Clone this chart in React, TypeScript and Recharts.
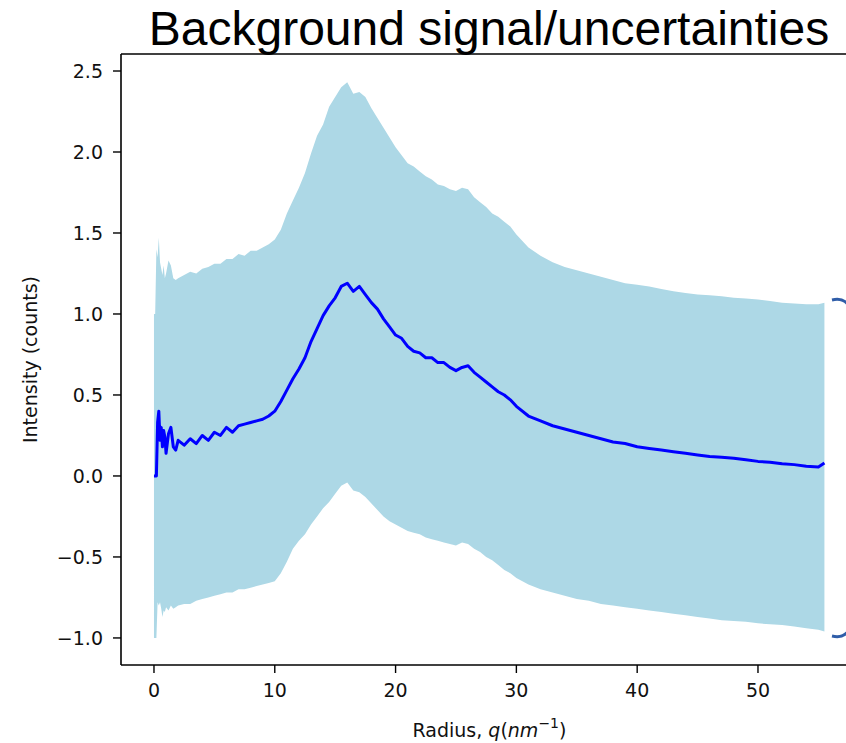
import { Area, ComposedChart, Label, Line, ReferenceLine, XAxis, YAxis } from 'recharts';

// radius q (nm^-1)
const radius = [
	0, 0.1, 0.2, 0.3, 0.4, 0.5, 0.6, 0.7, 0.8, 0.9, 1.0, 1.2, 1.4, 1.6, 1.8, 2.0,
	2.5, 3, 3.5, 4, 4.5, 5, 5.5, 6, 6.5, 7, 7.5, 8, 8.5, 9, 9.5, 10,
	10.5, 11, 11.5, 12, 12.5, 13, 13.5, 14, 14.5, 15, 15.5, 16, 16.5, 17, 17.5, 18, 18.5, 19, 19.5, 20,
	20.5, 21, 21.5, 22, 22.5, 23, 23.5, 24, 24.5, 25, 25.5, 26, 26.5, 27, 27.5, 28, 28.5, 29, 29.5, 30,
	31, 32, 33, 34, 35, 36, 37, 38, 39, 40, 41, 42, 43, 44, 45, 46, 47, 48, 49, 50, 51, 52, 53, 54, 55,
	55.5,
];

// background signal (mean)
const signal = [
	0.0, 0.0, 0.0, 0.33, 0.4, 0.22, 0.3, 0.18, 0.28, 0.24, 0.14, 0.26, 0.3, 0.18, 0.16, 0.22,
	0.19, 0.23, 0.2, 0.25, 0.22, 0.27, 0.25, 0.3, 0.27, 0.31, 0.32, 0.33, 0.34, 0.35, 0.37, 0.4,
	0.46, 0.53, 0.6, 0.66, 0.73, 0.83, 0.91, 0.99, 1.05, 1.1, 1.17, 1.19, 1.14, 1.17, 1.12, 1.07, 1.03, 0.97, 0.92, 0.87,
	0.85, 0.8, 0.77, 0.76, 0.73, 0.73, 0.7, 0.7, 0.67, 0.65, 0.67, 0.68, 0.64, 0.61, 0.58, 0.55, 0.52, 0.5, 0.47, 0.43,
	0.37, 0.34, 0.31, 0.29, 0.27, 0.25, 0.23, 0.21, 0.2, 0.18, 0.17, 0.16, 0.15, 0.14, 0.13, 0.12, 0.115, 0.11, 0.1, 0.09, 0.085, 0.075, 0.07, 0.06, 0.055,
	0.08,
];

// signal + uncertainty
const upper = [
	1.0, 1.0, 1.4, 1.35, 1.47, 1.32, 1.28, 1.24, 1.3, 1.22, 1.25, 1.33, 1.3, 1.22, 1.21, 1.22,
	1.24, 1.26, 1.25, 1.28, 1.29, 1.31, 1.31, 1.34, 1.34, 1.37, 1.36, 1.39, 1.39, 1.41, 1.43, 1.46,
	1.52, 1.62, 1.7, 1.78, 1.87, 1.99, 2.1, 2.17, 2.28, 2.34, 2.4, 2.43, 2.36, 2.37, 2.34, 2.27, 2.21, 2.15, 2.09, 2.03,
	1.98, 1.93, 1.91, 1.88, 1.85, 1.83, 1.8, 1.79, 1.77, 1.76, 1.78, 1.77, 1.72, 1.69, 1.66, 1.62, 1.6, 1.57, 1.54, 1.49,
	1.41, 1.36, 1.32, 1.29, 1.27, 1.25, 1.23, 1.21, 1.19, 1.18, 1.17, 1.155, 1.14, 1.13, 1.12, 1.115, 1.11, 1.1, 1.095, 1.09, 1.08, 1.07, 1.065, 1.06, 1.06,
	1.07,
];

// signal - uncertainty
const lower = [
	-1.0, -1.0, -1.0, -0.78, -0.8, -0.78, -0.82, -0.87, -0.83, -0.84, -0.81, -0.83, -0.8, -0.82, -0.81, -0.8,
	-0.79, -0.79, -0.77, -0.76, -0.75, -0.74, -0.73, -0.72, -0.72, -0.7, -0.7, -0.69, -0.68, -0.67, -0.66, -0.65,
	-0.6, -0.53, -0.45, -0.4, -0.36, -0.3, -0.25, -0.2, -0.16, -0.11, -0.06, -0.04, -0.09, -0.1, -0.13, -0.17, -0.21, -0.25, -0.28, -0.3,
	-0.32, -0.34, -0.35, -0.36, -0.38, -0.39, -0.4, -0.41, -0.42, -0.43, -0.41, -0.42, -0.45, -0.47, -0.5, -0.52, -0.55, -0.58, -0.6, -0.63,
	-0.67, -0.7, -0.72, -0.74, -0.76, -0.77, -0.79, -0.8, -0.81, -0.82, -0.83, -0.84, -0.85, -0.86, -0.87, -0.88, -0.89, -0.895, -0.9, -0.91, -0.915, -0.92, -0.93, -0.94, -0.95,
	-0.96,
];

const xTicks = [0, 10, 20, 30, 40, 50];
const yTicks = [-1.0, -0.5, 0.0, 0.5, 1.0, 1.5, 2.0, 2.5];

const X_DOMAIN = [-2.73, 58.28];
const Y_DOMAIN = [-1.167, 2.605];

const data = radius.map((q, i) => ({
	q,
	mean: signal[i],
	band: [lower[i], upper[i]],
}));

const FONT = 'DejaVu Sans';
const tickStyle = { fill: '#111', fontSize: 19, fontFamily: FONT };

const fmtY = (v: number) => v.toFixed(1).replace('-', '\u2212');

const XLabel = (props: any) => {
	const vb = props.viewBox || { x: 121, y: 665, width: 737 };
	const cx = vb.x + vb.width / 2;
	return (
		<text x={cx} y={737} textAnchor='middle' fontFamily={FONT} fontSize={19} fill='#111'>
			Radius, <tspan fontStyle='italic'>q</tspan>(<tspan fontStyle='italic'>nm</tspan>
			<tspan fontSize={14} dy={-9}>{'\u2212'}1</tspan>
			<tspan dy={9}>)</tspan>
		</text>
	);
};

const YLabel = (props: any) => {
	const vb = props.viewBox || { y: 54, height: 611 };
	const cy = vb.y + vb.height / 2;
	return (
		<text
			x={37}
			y={cy}
			transform={`rotate(-90, 37, ${cy})`}
			textAnchor='middle'
			fontFamily={FONT}
			fontSize={19}
			fill='#111'
		>
			Intensity (counts)
		</text>
	);
};

export default function App() {
	return (
		<div
			style={{
				position: 'absolute',
				left: 0,
				top: 0,
				width: 846,
				height: 743,
				overflow: 'hidden',
				background: '#fff',
			}}
		>
			<ComposedChart
				width={868}
				height={743}
				data={data}
				margin={{ top: 54, right: 10, bottom: 0, left: 0 }}
			>
				<XAxis
					dataKey='q'
					type='number'
					domain={X_DOMAIN}
					ticks={xTicks}
					allowDataOverflow
					height={78}
					tickSize={8}
					tickMargin={11}
					tick={tickStyle}
					axisLine={{ stroke: '#000', strokeWidth: 1.6 }}
					tickLine={{ stroke: '#000', strokeWidth: 1.4 }}
				>
					<Label content={<XLabel />} />
				</XAxis>
				<YAxis
					type='number'
					domain={Y_DOMAIN}
					ticks={yTicks}
					allowDataOverflow
					width={121}
					tickSize={8}
					tickMargin={10}
					tick={tickStyle}
					tickFormatter={fmtY}
					axisLine={{ stroke: '#000', strokeWidth: 1.6 }}
					tickLine={{ stroke: '#000', strokeWidth: 1.4 }}
				>
					<Label content={<YLabel />} />
				</YAxis>
				<YAxis
					yAxisId='right'
					orientation='right'
					width={0}
					tick={false}
					tickLine={false}
					axisLine={{ stroke: '#000', strokeWidth: 1.6 }}
				/>
				<Area
					type='linear'
					dataKey='band'
					stroke='none'
					fill='#ADD8E6'
					fillOpacity={1}
					isAnimationActive={false}
					activeDot={false}
				/>
				<Line
					type='linear'
					dataKey='mean'
					stroke='#0000FF'
					strokeWidth={3}
					strokeLinejoin='round'
					dot={false}
					activeDot={false}
					isAnimationActive={false}
				/>
				{/* top spine */}
				<ReferenceLine y={Y_DOMAIN[1]} stroke='#000' strokeWidth={1.6} ifOverflow='visible' />
			</ComposedChart>
			<svg
				width={846}
				height={743}
				style={{ position: 'absolute', left: 0, top: 0, pointerEvents: 'none' }}
			>
				<text
					x={489}
					y={45}
					textAnchor='middle'
					fontFamily='Liberation Sans, Arial, sans-serif'
					fontSize={48}
					fill='#000'
				>
					Background signal/uncertainties
				</text>
				<path d='M 832 300 Q 845 297 850 308' fill='none' stroke='#2F5DA8' strokeWidth={3} />
				<path d='M 832 636 Q 845 639 850 628' fill='none' stroke='#2F5DA8' strokeWidth={3} />
			</svg>
		</div>
	);
}
